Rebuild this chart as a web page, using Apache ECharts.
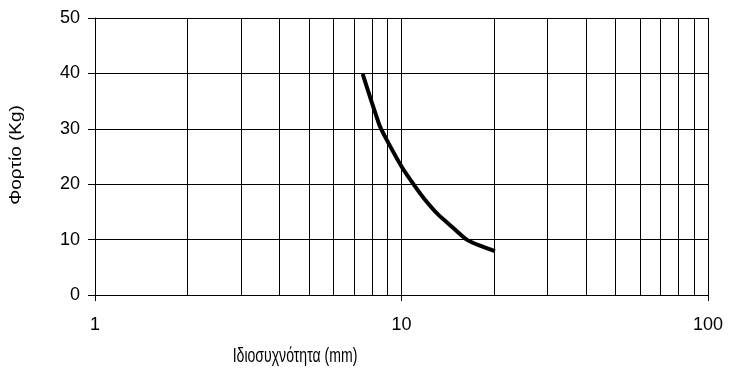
<!DOCTYPE html>
<html>
<head>
<meta charset="utf-8">
<script src="https://cdn.jsdelivr.net/npm/echarts@6/dist/echarts.min.js"></script>
<style>
  html, body { margin: 0; padding: 0; background: #fff; }
  #chart { width: 742px; height: 371px; }
</style>
</head>
<body>
<div id="chart"></div>
<script>
// frequency (mm) vs load (Kg)
const freq = [7.47, 7.89, 8.51, 8.95, 10.0, 11.07, 11.93, 13.18, 14.76, 16.32, 18.03, 20.18];
const load = [39.9, 35.8, 30.4, 28.0, 23.2, 19.6, 17.2, 14.5, 12.1, 10.0, 8.9, 7.9];
// minor log grid lines
const minorLines = [2, 3, 4, 5, 6, 7, 8, 9, 20, 30, 40, 50, 60, 70, 80, 90];

const font = 'Liberation Sans, Arial, sans-serif';
const chart = echarts.init(document.getElementById('chart'));

chart.setOption({
  animation: false,
  grid: { left: 95, right: 34, top: 18, bottom: 76 },
  // axis titles: the source text is a bit squashed, so scale it
  graphic: [
    {
      type: 'text',
      x: 295,
      y: 356,
      scaleX: 0.67,
      style: {
        text: 'Ιδιοσυχνότητα (mm)',
        font: '21px ' + font,
        fill: '#000',
        textAlign: 'center',
        textVerticalAlign: 'middle'
      }
    },
    {
      type: 'text',
      x: 17,
      y: 155,
      rotation: Math.PI / 2,
      scaleY: 0.85,
      style: {
        text: 'Φορτίο (Kg)',
        font: '19px ' + font,
        fill: '#000',
        textAlign: 'center',
        textVerticalAlign: 'middle'
      }
    }
  ],
  xAxis: {
    type: 'log',
    logBase: 10,
    min: 1,
    max: 100,
    axisLine: { show: true, onZero: false, lineStyle: { color: '#000', width: 1 } },
    axisTick: { show: true, inside: false, length: 6, lineStyle: { color: '#000' } },
    axisLabel: { margin: 21, fontFamily: font, fontSize: 18, color: '#000' },
    splitLine: { show: true, lineStyle: { color: '#000', width: 1 } },
    minorTick: { show: false },
    minorSplitLine: { show: false }
  },
  yAxis: {
    type: 'value',
    min: 0,
    max: 50,
    interval: 10,
    axisLine: { show: true, lineStyle: { color: '#000', width: 1 } },
    axisTick: { show: true, inside: false, length: 7, lineStyle: { color: '#000' } },
    axisLabel: { margin: 15, fontFamily: font, fontSize: 18, color: '#000' },
    splitLine: { show: true, lineStyle: { color: '#000', width: 1 } }
  },
  series: [
    {
      type: 'line',
      data: [],
      silent: true,
      markLine: {
        silent: true,
        symbol: 'none',
        label: { show: false },
        lineStyle: { color: '#000', width: 1, type: 'solid' },
        data: minorLines.map(v => ({ xAxis: v }))
      }
    },
    {
      type: 'line',
      data: freq.map((f, i) => [f, load[i]]),
      showSymbol: false,
      smooth: 0.2,
      lineStyle: { color: '#000', width: 4 },
      z: 5
    }
  ]
});
</script>
</body>
</html>
